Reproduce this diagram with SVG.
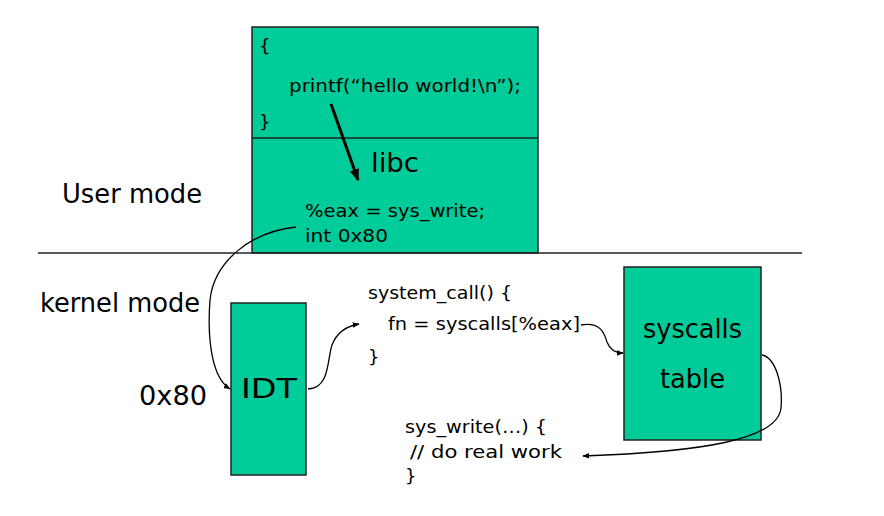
<svg xmlns="http://www.w3.org/2000/svg" width="884" height="516" viewBox="0 0 884 516">
<style>
.box{fill:#00CC99;stroke:#222;stroke-width:1.5}
text{font-family:"DejaVu Sans","Liberation Sans",sans-serif;fill:#000}
.s{font-size:18px}
.l{font-size:26px}
.c{fill:none;stroke:#000;stroke-width:1.3}
</style>
<defs>
<marker id="a" viewBox="0 0 10 10" refX="9" refY="5" markerWidth="7" markerHeight="7" orient="auto" markerUnits="userSpaceOnUse">
<path d="M0,1 L10,5 L0,9 Z" fill="#000"/>
</marker>
<marker id="b" viewBox="0 0 10 10" refX="9" refY="5" markerWidth="12" markerHeight="12" orient="auto" markerUnits="userSpaceOnUse">
<path d="M0,1 L10,5 L0,9 Z" fill="#000"/>
</marker>
</defs>
<rect width="884" height="516" fill="#fff"/>
<g id="userbox">
<rect class="box" x="252" y="27" width="286" height="226"/>
<line x1="252" y1="138" x2="538" y2="138" stroke="#222" stroke-width="1.5"/>
<text class="s" x="259" y="52">{</text>
<text class="s" x="289" y="92" textLength="232" lengthAdjust="spacingAndGlyphs">printf(“hello world!\n”);</text>
<text class="s" x="259" y="128">}</text>
<text class="l" x="371" y="172" textLength="48" lengthAdjust="spacingAndGlyphs">libc</text>
<text class="s" x="305" y="217" textLength="180" lengthAdjust="spacingAndGlyphs">%eax = sys_write;</text>
<text class="s" x="305" y="242" textLength="83" lengthAdjust="spacingAndGlyphs">int 0x80</text>
</g>
<g id="modes">
<line x1="38" y1="253" x2="802" y2="253" stroke="#222" stroke-width="1.3"/>
<text class="l" x="62" y="203" textLength="140" lengthAdjust="spacingAndGlyphs">User mode</text>
<text class="l" x="40" y="312" textLength="160" lengthAdjust="spacingAndGlyphs">kernel mode</text>
<text class="l" x="139" y="405" textLength="68" lengthAdjust="spacingAndGlyphs">0x80</text>
</g>
<g id="idt">
<rect class="box" x="231" y="303" width="75" height="172"/>
<text class="l" x="241" y="398" textLength="56" lengthAdjust="spacingAndGlyphs">IDT</text>
</g>
<g id="systemcall">
<text class="s" x="368" y="299" textLength="144" lengthAdjust="spacingAndGlyphs">system_call() {</text>
<text class="s" x="388" y="330" textLength="192" lengthAdjust="spacingAndGlyphs">fn = syscalls[%eax]</text>
<text class="s" x="368" y="363">}</text>
</g>
<g id="syscalls">
<rect class="box" x="624" y="267" width="137" height="173"/>
<text class="l" x="643" y="338" textLength="99" lengthAdjust="spacingAndGlyphs">syscalls</text>
<text class="l" x="660" y="388" textLength="65" lengthAdjust="spacingAndGlyphs">table</text>
</g>
<g id="syswrite">
<text class="s" x="405" y="433" textLength="142" lengthAdjust="spacingAndGlyphs">sys_write(…) {</text>
<text class="s" x="410" y="458" textLength="152" lengthAdjust="spacingAndGlyphs">// do real work</text>
<text class="s" x="405" y="482">}</text>
</g>
<g id="connectors">
<line x1="331" y1="104" x2="358" y2="180" stroke="#000" stroke-width="3" marker-end="url(#b)"/>
<path class="c" d="M296,227 C250,232 214,262 210,300 C207,340 212,378 230,389" marker-end="url(#a)"/>
<path class="c" d="M308,389 C330,388 327,360 332,345 C337,332 347,326 359,324" marker-end="url(#a)"/>
<path class="c" d="M581,325 C600,322 604,332 607,342 C610,350 615,353 623,353" marker-end="url(#a)"/>
<path class="c" d="M762,355 C776,358 783,385 781,408 C778,440 700,452 583,456" marker-end="url(#a)"/>
</g>
</svg>
